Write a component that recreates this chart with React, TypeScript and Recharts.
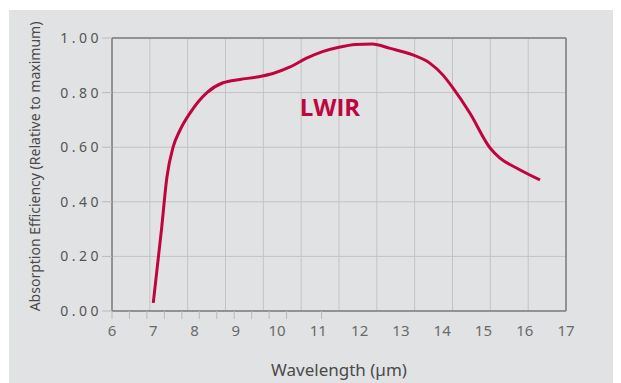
import { ComposedChart, Line, XAxis, YAxis, CartesianGrid, ReferenceLine, ReferenceDot } from "recharts";

// wavelength (µm) vs relative absorption efficiency
const wavelengths = [
  7.0, 7.2, 7.33, 7.48, 7.65, 7.89, 8.3, 8.69, 9.1, 9.51, 9.9, 10.3, 10.7, 11.1,
  11.5, 11.9, 12.3, 12.74, 13.29, 13.7, 14.02, 14.26, 14.67, 15.16, 15.4, 15.8, 16.37,
];
const efficiency = [
  0.03, 0.3, 0.49, 0.6, 0.663, 0.725, 0.8, 0.836, 0.848, 0.857, 0.87, 0.893, 0.925, 0.95,
  0.966, 0.976, 0.978, 0.962, 0.938, 0.908, 0.864, 0.817, 0.725, 0.597, 0.56, 0.524, 0.48,
];
const xTicks = [6, 7, 8, 9, 10, 11, 12, 13, 14, 15, 16, 17];
// the printed grid has 12 columns, not lined up with the labels
const gridTicks = [0, 1, 2, 3, 4, 5, 6, 7, 8, 9, 10, 11, 12];
const yTicks = [0, 0.2, 0.4, 0.6, 0.8, 1.0];

const data = wavelengths.map((w, i) => ({ w, v: efficiency[i] }));

const RED = "#c0053e";
const FONT = "'Noto Sans', 'Open Sans', sans-serif";
const GRID = "#c2c3c5";
const TICK = "#b9babc";
const FRAME = "#7d7d7d";
const X_AXIS_H = 71;

// small marks hanging below the axis at each grid column
// (the grid axis is stacked under the labelled one, so step back up by its height)
function GridMark(props: any) {
  const y = props.y - X_AXIS_H;
  return <line x1={props.x} x2={props.x} y1={y} y2={y + 8} stroke={TICK} strokeWidth={1} />;
}

export default function App() {
  return (
    <div style={{ width: 612, height: 373, marginLeft: 1, marginTop: 2, background: "#e1e2e4" }}>
      <ComposedChart
        width={612}
        height={373}
        data={data}
        margin={{ top: 28, right: 55, bottom: 0, left: 0 }}
      >
        <CartesianGrid
          stroke={GRID}
          strokeWidth={1}
          verticalCoordinatesGenerator={({ offset }: any) =>
            gridTicks.map((t) => offset.left + (t * offset.width) / 12)
          }
        />
        <XAxis
          xAxisId="g"
          type="number"
          domain={[0, 12]}
          allowDataOverflow
          ticks={gridTicks}
          tick={<GridMark />}
          axisLine={false}
          tickLine={false}
          tickSize={0}
          tickMargin={0}
          height={1}
        />
        <XAxis
          dataKey="w"
          type="number"
          domain={[6, 17]}
          allowDataOverflow
          ticks={xTicks}
          tickLine={false}
          axisLine={{ stroke: FRAME, strokeWidth: 1.5 }}
          tick={{ fill: "#6a6a6a", fontSize: 15, fontFamily: FONT }}
          tickMargin={8}
          height={X_AXIS_H}
          label={{
            value: "Wavelength (µm)",
            position: "insideBottom",
            offset: 6,
            fill: "#4a4a4a",
            fontSize: 17,
            fontFamily: FONT,
          }}
        />
        <YAxis
          type="number"
          domain={[0, 1]}
          ticks={yTicks}
          width={103}
          tickFormatter={(v: number) => v.toFixed(2)}
          tick={{ fill: "#555", fontSize: 14, fontFamily: FONT, letterSpacing: 3.5 }}
          tickLine={{ stroke: TICK, strokeWidth: 1 }}
          tickSize={10}
          tickMargin={0}
          axisLine={{ stroke: FRAME, strokeWidth: 1.5 }}
          label={{
            content: (props: any) => {
              const vb = props.viewBox || {};
              return (
                <text
                  transform={`translate(${vb.x + 25},${vb.y + vb.height / 2 - 8}) rotate(-90)`}
                  textAnchor="middle"
                  dominantBaseline="central"
                  fill="#4a4a4a"
                  fontSize={14}
                  fontFamily={FONT}
                >
                  Absorption Efficiency (Relative to maximum)
                </text>
              );
            },
          }}
        />
        <ReferenceLine y={1} stroke={FRAME} strokeWidth={1.5} />
        <ReferenceLine x={17} stroke={FRAME} strokeWidth={1.5} />
        <Line
          dataKey="v"
          type="monotone"
          stroke={RED}
          strokeWidth={3}
          dot={false}
          isAnimationActive={false}
        />
        <ReferenceDot
          x={11.28}
          y={0.747}
          r={0}
          fill="none"
          stroke="none"
          label={{
            value: "LWIR",
            position: "center",
            fill: RED,
            fontSize: 24,
            fontWeight: 700,
            fontFamily: "'Open Sans', sans-serif",
          }}
        />
      </ComposedChart>
    </div>
  );
}
